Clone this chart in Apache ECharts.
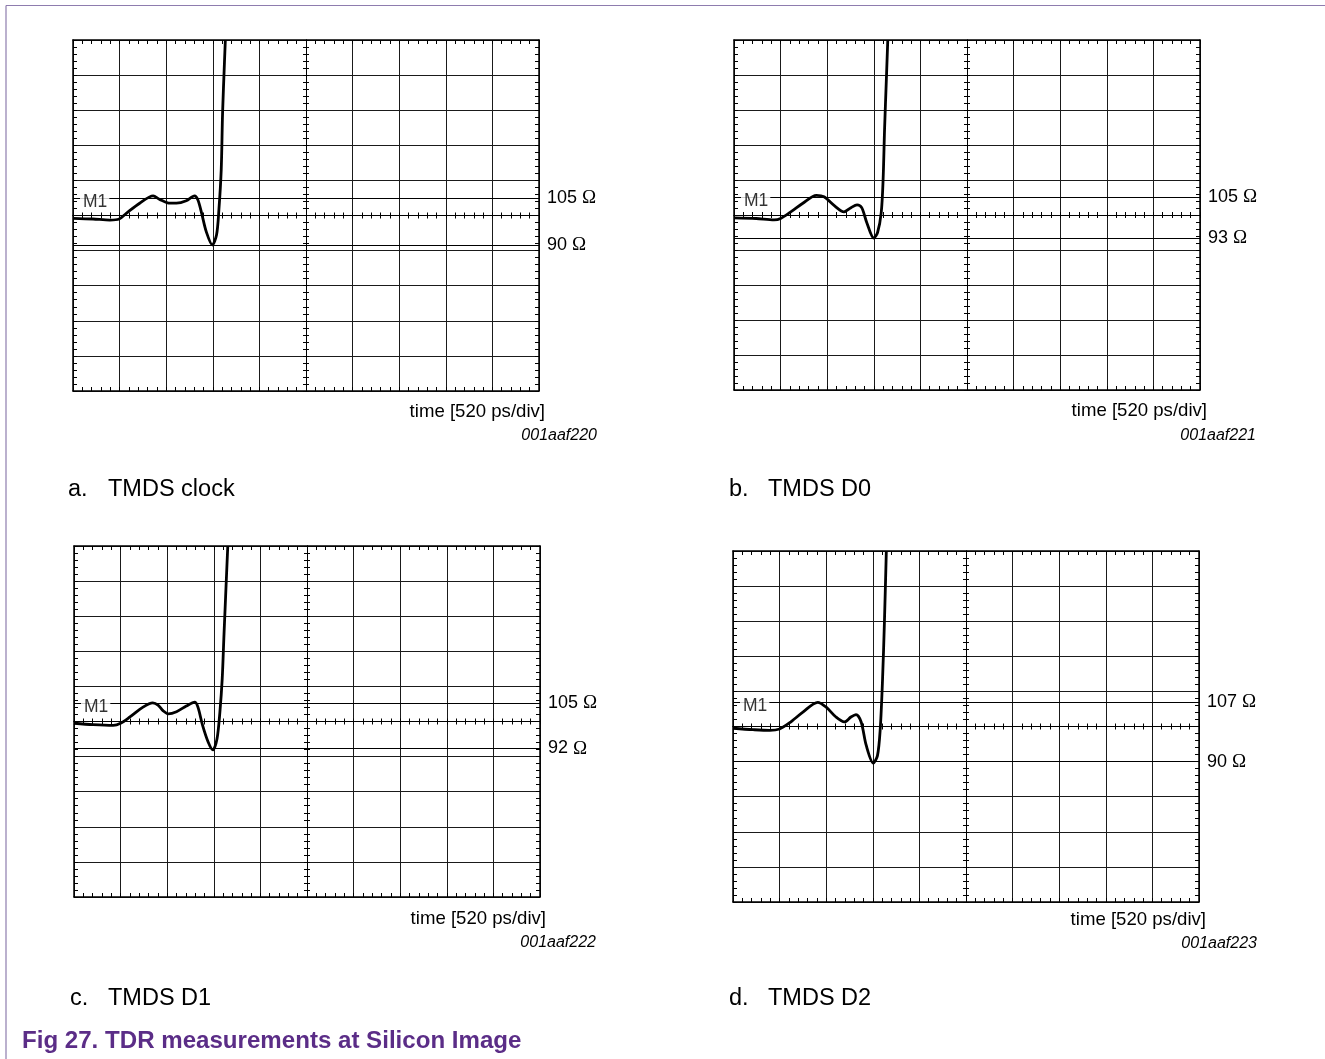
<!DOCTYPE html>
<html>
<head>
<meta charset="utf-8">
<script src="https://cdn.jsdelivr.net/npm/echarts@6/dist/echarts.min.js"></script>
<style>
html,body{margin:0;padding:0;background:#fff;}
#chart{width:1325px;height:1059px;}
</style>
</head>
<body>
<div id="chart"></div>
<script>
// ---------------- DATA ----------------
const captionLetters = ['a.', 'b.', 'c.', 'd.'];
const captionNames = ['TMDS clock', 'TMDS D0', 'TMDS D1', 'TMDS D2'];
const figureIds = ['001aaf220', '001aaf221', '001aaf222', '001aaf223'];
const xAxisTitle = 'time [520 ps/div]';
const figureCaption = 'Fig 27. TDR measurements at Silicon Image';
const markerName = 'M1';

// axis ranges: time in ps (520 ps/div), impedance in ohm (10 ohm/div)
const timeMin = 0, timeMax = 5200, timeStep = 520;
const ohmMin = 50, ohmMax = 150, ohmStep = 10;

// Panel a: TMDS clock
const timeA = [0, 224, 411, 515, 598, 744, 894, 967, 1082, 1154, 1264, 1357, 1394, 1435, 1487, 1555, 1602, 1628, 1654, 1669, 1690, 1700];
const ohmA  = [99.2, 99.0, 98.7, 99.0, 100.7, 103.5, 105.6, 104.6, 103.5, 103.5, 104.2, 105.6, 104.4, 100.7, 95.4, 91.6, 94.5, 101.6, 113.0, 129.1, 143.6, 150];
const markersA = [105, 91.6];
const markerLabelsA = ['105 Ω', '90 Ω'];

// Panel b: TMDS D0
const timeB = [0, 247, 447, 520, 645, 764, 920, 1004, 1123, 1227, 1305, 1373, 1425, 1482, 1560, 1602, 1643, 1664, 1680, 1700, 1716];
const ohmB  = [99.2, 99.0, 98.6, 99.0, 101.1, 103.3, 105.6, 105.2, 102.6, 100.9, 102.1, 102.9, 102.1, 97.8, 93.4, 95.0, 100.7, 110.2, 124.4, 138.6, 150];
const markersB = [105, 93.5];
const markerLabelsB = ['105 Ω', '93 Ω'];

// Panel c: TMDS D1
const timeC = [0, 213, 437, 520, 624, 770, 879, 941, 993, 1050, 1144, 1253, 1347, 1383, 1435, 1498, 1550, 1596, 1628, 1654, 1674, 1716];
const ohmC  = [99.5, 99.1, 98.9, 99.5, 101.3, 104.1, 105.3, 104.6, 103.1, 102.2, 102.8, 104.4, 105.5, 104.1, 98.9, 94.1, 91.9, 95.1, 102.7, 112.2, 124.9, 150];
const markersC = [105.2, 92.3];
const markerLabelsC = ['105 Ω', '92 Ω'];

// Panel d: TMDS D2
const timeD = [0, 224, 411, 520, 629, 780, 946, 1040, 1149, 1243, 1316, 1373, 1430, 1487, 1565, 1612, 1643, 1669, 1690, 1711];
const ohmD  = [99.5, 99.1, 98.9, 99.3, 101.0, 104.1, 106.9, 105.5, 102.7, 101.3, 102.7, 103.4, 101.3, 94.6, 89.6, 91.7, 99.3, 113.6, 130, 150];
const markersD = [107, 90];
const markerLabelsD = ['107 Ω', '90 Ω'];

const panelTimes = [timeA, timeB, timeC, timeD];
const panelOhms = [ohmA, ohmB, ohmC, ohmD];
const panelMarkers = [markersA, markersB, markersC, markersD];
const panelMarkerLabels = [markerLabelsA, markerLabelsB, markerLabelsC, markerLabelsD];

// ---------------- LAYOUT ----------------
const layout = [
  {left: 73, top: 40, width: 466, height: 351, capY: 490, letterX: 68, nameX: 108, timeR: 545, timeY: 412, idR: 597, idY: 436},
  {left: 734, top: 40, width: 466, height: 350, capY: 490, letterX: 729, nameX: 768, timeR: 1207, timeY: 411, idR: 1256, idY: 436},
  {left: 74, top: 546, width: 466, height: 351, capY: 999, letterX: 70, nameX: 108, timeR: 546, timeY: 919, idR: 596, idY: 943},
  {left: 733, top: 551, width: 466, height: 351, capY: 999, letterX: 729, nameX: 768, timeR: 1206, timeY: 920, idR: 1257, idY: 944}
];
const SANS = '"Liberation Sans", Arial, sans-serif';
const SERIF = '"Liberation Serif", "Times New Roman", serif';

const grids = [], xAxes = [], yAxes = [], series = [], graphics = [];

function axisBase(extra) {
  return Object.assign({
    type: 'value',
    axisLabel: {show: false},
    splitLine: {show: false},
    axisPointer: {show: false},
    silent: true
  }, extra);
}

layout.forEach((L, i) => {
  grids.push({left: L.left, top: L.top, width: L.width, height: L.height, containLabel: false, outerBoundsMode: 'none'});
  const xr = {min: timeMin, max: timeMax, interval: timeStep, gridIndex: i};
  const yr = {min: ohmMin, max: ohmMax, interval: ohmStep, gridIndex: i};
  const border = {show: true, onZero: false, lineStyle: {color: '#000', width: 1.5}};
  const center = {show: true, onZero: false, lineStyle: {color: '#000', width: 1}};
  const minor = (len) => ({show: true, splitNumber: 5, length: len, lineStyle: {color: '#000', width: 1}});
  // x axes: bottom border (with grid), top border, center (two directions)
  xAxes.push(axisBase(Object.assign({}, xr, {position: 'bottom', axisLine: border,
    axisTick: {show: true, inside: true, length: 4}, minorTick: minor(4),
    splitLine: {show: true, lineStyle: {color: '#1a1a1a', width: 1}}})));
  xAxes.push(axisBase(Object.assign({}, xr, {position: 'top', axisLine: border,
    axisTick: {show: true, inside: true, length: 4}, minorTick: minor(4)})));
  xAxes.push(axisBase(Object.assign({}, xr, {position: 'bottom', offset: -L.height / 2, axisLine: center,
    axisTick: {show: true, inside: true, length: 3}, minorTick: minor(3)})));
  xAxes.push(axisBase(Object.assign({}, xr, {position: 'bottom', offset: -L.height / 2, axisLine: center,
    axisTick: {show: true, inside: false, length: 3}, minorTick: minor(3)})));
  // y axes
  yAxes.push(axisBase(Object.assign({}, yr, {position: 'left', axisLine: border,
    axisTick: {show: true, inside: true, length: 4}, minorTick: minor(4),
    splitLine: {show: true, lineStyle: {color: '#1a1a1a', width: 1}}})));
  yAxes.push(axisBase(Object.assign({}, yr, {position: 'right', axisLine: border,
    axisTick: {show: true, inside: true, length: 4}, minorTick: minor(4)})));
  yAxes.push(axisBase(Object.assign({}, yr, {position: 'left', offset: -L.width / 2, axisLine: center,
    axisTick: {show: true, inside: true, length: 3}, minorTick: minor(3)})));
  yAxes.push(axisBase(Object.assign({}, yr, {position: 'left', offset: -L.width / 2, axisLine: center,
    axisTick: {show: true, inside: false, length: 3}, minorTick: minor(3)})));

  const data = panelTimes[i].map((t, k) => [t, panelOhms[i][k]]);
  series.push({
    type: 'line', xAxisIndex: i * 4, yAxisIndex: i * 4, data: data,
    smooth: 0.3, showSymbol: false, symbol: 'none', clip: true, z: 5,
    lineStyle: {color: '#000', width: 2.8},
    markLine: {
      silent: true, symbol: 'none', animation: false,
      lineStyle: {color: '#000', width: 1, type: 'solid'},
      label: {show: true, position: 'end', distance: 8, color: '#000', fontSize: 18, fontFamily: SANS,
        rich: {o: {fontFamily: SERIF, fontSize: 19, color: '#000'}}},
      data: panelMarkers[i].map((v, j) => ({
        yAxis: v,
        label: {formatter: panelMarkerLabels[i][j].replace('Ω', '{o|Ω}')}
      }))
    }
  });
  // M1 marker label on the first marker line
  series.push({
    type: 'scatter', xAxisIndex: i * 4, yAxisIndex: i * 4, symbolSize: 0, silent: true, z: 6,
    data: [[timeMin, panelMarkers[i][0]]],
    label: {show: true, formatter: markerName, position: 'right', distance: 7, offset: [0, 4],
      color: '#000', fontSize: 17.5, fontFamily: SANS, backgroundColor: '#fff', padding: [0, 2, 0, 3]}
  });

  // texts
  graphics.push({type: 'text', x: L.timeR, y: L.timeY, silent: true,
    style: {text: xAxisTitle, align: 'right', verticalAlign: 'middle', font: '18.6px ' + SANS, fill: '#000'}});
  graphics.push({type: 'text', x: L.idR, y: L.idY, silent: true,
    style: {text: figureIds[i], align: 'right', verticalAlign: 'middle', font: 'italic 16px ' + SANS, fill: '#000'}});
  graphics.push({type: 'text', x: L.letterX, y: L.capY, silent: true,
    style: {text: captionLetters[i], align: 'left', verticalAlign: 'middle', font: '23.5px ' + SANS, fill: '#000'}});
  graphics.push({type: 'text', x: L.nameX, y: L.capY, silent: true,
    style: {text: captionNames[i], align: 'left', verticalAlign: 'middle', font: '23.5px ' + SANS, fill: '#000'}});
});

// page frame and figure caption
graphics.push({type: 'line', silent: true, shape: {x1: 6, y1: 5.5, x2: 1325, y2: 5.5}, style: {stroke: '#8e7cae', lineWidth: 1.2}});
graphics.push({type: 'line', silent: true, shape: {x1: 6, y1: 5.5, x2: 6, y2: 1059}, style: {stroke: '#8e7cae', lineWidth: 1.2}});
graphics.push({type: 'text', x: 22, y: 1041, silent: true,
  style: {text: figureCaption, align: 'left', verticalAlign: 'middle', font: 'bold 24.1px ' + SANS, fill: '#5b2d87'}});

const chart = echarts.init(document.getElementById('chart'), null, {renderer: 'canvas'});
chart.setOption({
  animation: false,
  backgroundColor: '#fff',
  grid: grids,
  xAxis: xAxes,
  yAxis: yAxes,
  series: series,
  graphic: graphics
});
</script>
</body>
</html>
